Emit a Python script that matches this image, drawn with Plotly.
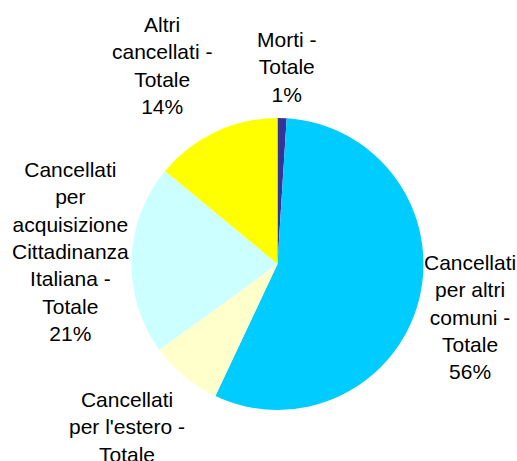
import plotly.graph_objects as go

labels = [
    "Morti -<br>Totale",
    "Cancellati<br>per altri<br>comuni -<br>Totale",
    "Cancellati<br>per l'estero -<br>Totale",
    "Cancellati<br>per<br>acquisizione<br>Cittadinanza<br>Italiana -<br>Totale",
    "Altri<br>cancellati -<br>Totale",
]
values = [1, 56, 8, 21, 14]
colors = ["#333399", "#00CCFF", "#FFFFCC", "#CCFFFF", "#FFFF00"]

# label placement (paper coordinates) – layout only
label_pos = [
    (0.5551, 0.8547),
    (0.9091, 0.3124),
    (0.2456, 0.0434),
    (0.1354, 0.4534),
    (0.3133, 0.8590),
]

fig = go.Figure(go.Pie(
    labels=labels,
    values=values,
    sort=False,
    direction="clockwise",
    rotation=0,
    marker=dict(colors=colors, line=dict(width=0)),
    textinfo="none",
    domain=dict(x=[0.2544, 0.8191], y=[0.1106, 0.7440]),
    showlegend=False,
    hoverinfo="label+percent",
))

total = sum(values)
font = dict(family="Liberation Sans, Arial, sans-serif", size=21, color="black")
for lab, val, (px, py) in zip(labels, values, label_pos):
    fig.add_annotation(
        text=f"{lab}<br>{round(val / total * 100)}%",
        x=px, y=py, xref="paper", yref="paper",
        xanchor="center", yanchor="middle", align="center",
        showarrow=False, font=font,
    )

fig.update_layout(
    width=517, height=461,
    margin=dict(l=0, r=0, t=0, b=0),
    paper_bgcolor="white",
    plot_bgcolor="white",
)

fig.write_html(
    "out.html",
    config={"displayModeBar": False},
    post_script="document.body.style.margin='0';document.body.style.overflow='hidden';",
)
